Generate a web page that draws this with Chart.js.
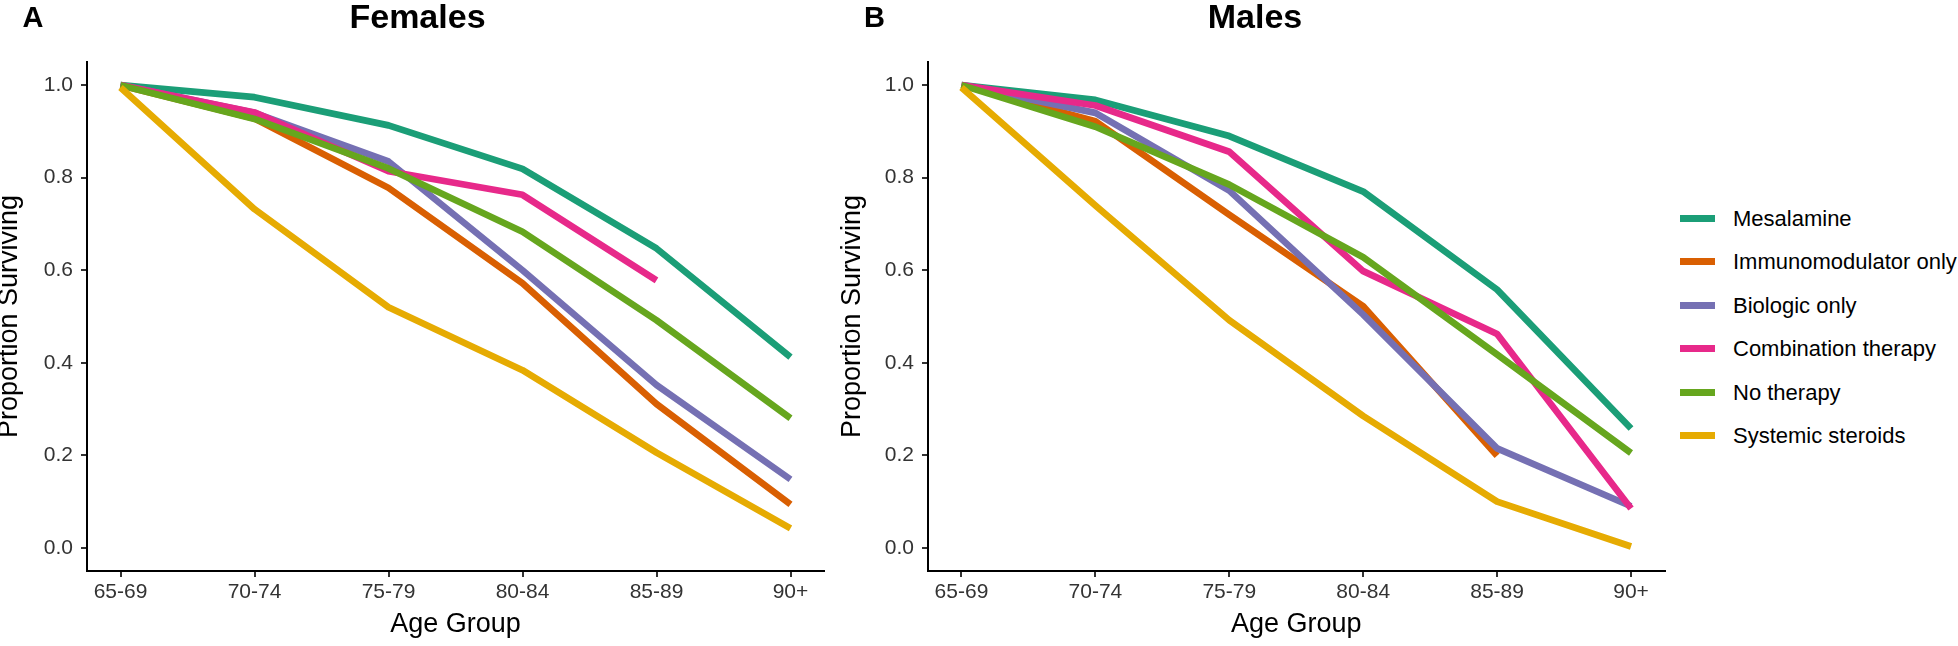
<!DOCTYPE html>
<html>
<head>
<meta charset="utf-8">
<script src="https://cdn.jsdelivr.net/npm/chart.js@4.4.1/dist/chart.umd.min.js"></script>
<style>
html, body { margin: 0; padding: 0; background: #ffffff; }
body { width: 1958px; height: 646px; position: relative; overflow: hidden; font-family: "Liberation Sans", Arial, Helvetica, sans-serif; }
canvas { position: absolute; top: 0; }
.sw { position: absolute; width: 35px; height: 6.7px; }
.lt { position: absolute; font-size: 22px; line-height: 22px; color: #000; white-space: nowrap; }
</style>
</head>
<body>
<canvas id="chartFemales" width="835" height="646" style="left:0px"></canvas>
<canvas id="chartMales" width="840" height="646" style="left:835px"></canvas>
<div id="legend"></div>
<script>
// ---------- data ----------
const ageGroups = ['65-69', '70-74', '75-79', '80-84', '85-89', '90+'];
const treatments = ['Mesalamine', 'Immunomodulator only', 'Biologic only', 'Combination therapy', 'No therapy', 'Systemic steroids'];
const yTicks = [0.0, 0.2, 0.4, 0.6, 0.8, 1.0];

// Females (panel A)
const femalesMesalamine    = [1.000, 0.974, 0.913, 0.819, 0.647, 0.412];
const femalesImmuno        = [1.000, 0.928, 0.778, 0.572, 0.311, 0.094];
const femalesBiologic      = [1.000, 0.940, 0.835, 0.600, 0.352, 0.148];
const femalesCombination   = [1.000, 0.941, 0.814, 0.763, 0.578, null];
const femalesNoTherapy     = [1.000, 0.927, 0.820, 0.683, 0.492, 0.280];
const femalesSteroids      = [0.995, 0.732, 0.520, 0.384, 0.206, 0.042];

// Males (panel B)
const malesMesalamine      = [1.000, 0.968, 0.890, 0.770, 0.558, 0.258];
const malesImmuno          = [1.000, 0.922, 0.720, 0.522, 0.199, null];
const malesBiologic        = [1.000, 0.940, 0.772, 0.504, 0.215, 0.090];
const malesCombination     = [1.000, 0.956, 0.856, 0.598, 0.462, 0.085];
const malesNoTherapy       = [1.000, 0.910, 0.785, 0.628, 0.418, 0.205];
const malesSteroids        = [0.995, 0.740, 0.492, 0.285, 0.100, 0.003];

const femalesSeries = [femalesMesalamine, femalesImmuno, femalesBiologic, femalesCombination, femalesNoTherapy, femalesSteroids];
const malesSeries   = [malesMesalamine, malesImmuno, malesBiologic, malesCombination, malesNoTherapy, malesSteroids];

// ---------- styles ----------
const seriesColors = ['#1B9E77', '#D95F02', '#7570B3', '#E7298A', '#66A61E', '#E6AB02'];
const FONT = '"Liberation Sans", Arial, Helvetica, sans-serif';

const panelTextPlugin = {
  id: 'panelText',
  afterDraw(chart, args, opts) {
    const ctx = chart.ctx;
    ctx.save();
    ctx.fillStyle = '#000';
    ctx.font = 'bold 34px ' + FONT;
    ctx.textAlign = 'center';
    ctx.textBaseline = 'middle';
    ctx.fillText(opts.title, opts.titleX, 18.4);
    ctx.font = 'bold 29px ' + FONT;
    ctx.textAlign = 'left';
    ctx.textBaseline = 'alphabetic';
    ctx.fillText(opts.label, opts.labelX, 26.7);
    ctx.restore();
  }
};

function makeChart(canvasId, series, cfg) {
  const datasets = series.map((vals, i) => ({
    label: treatments[i],
    data: vals.map((v, j) => ({ x: j + 1, y: v })),
    borderColor: seriesColors[i],
    backgroundColor: seriesColors[i],
    borderWidth: 6.7,
    borderJoinStyle: 'round',
    borderCapStyle: 'butt',
    pointRadius: 0,
    pointHoverRadius: 0,
    tension: 0,
    fill: false,
    spanGaps: false,
    order: series.length - i
  }));
  return new Chart(document.getElementById(canvasId), {
    type: 'line',
    data: { datasets },
    plugins: [panelTextPlugin],
    options: {
      responsive: false,
      animation: false,
      devicePixelRatio: 1,
      layout: { padding: { left: cfg.padLeft, right: cfg.padRight, top: 62, bottom: 0 } },
      plugins: {
        legend: { display: false },
        tooltip: { enabled: false },
        title: { display: false },
        panelText: { title: cfg.title, titleX: cfg.titleX, label: cfg.label, labelX: cfg.labelX }
      },
      scales: {
        x: {
          type: 'linear',
          min: 0.75,
          max: ageGroups.length + 0.25,
          afterBuildTicks: s => { s.ticks = ageGroups.map((g, i) => ({ value: i + 1 })); },
          afterFit: s => { s.height = 75; },
          ticks: {
            callback: v => ageGroups[Math.round(v) - 1],
            font: { family: FONT, size: 21 },
            color: '#333',
            padding: 3,
            maxRotation: 0,
            autoSkip: false
          },
          grid: { display: true, drawOnChartArea: false, drawTicks: true, tickLength: 6, color: '#333', lineWidth: 2 },
          border: { display: true, color: '#000', width: 2 },
          title: { display: true, text: 'Age Group', color: '#000', font: { family: FONT, size: 27, lineHeight: 1 }, padding: { top: 0, bottom: 8 } }
        },
        y: {
          type: 'linear',
          min: -0.05,
          max: 1.05,
          afterBuildTicks: s => { s.ticks = yTicks.map(v => ({ value: v })); },
          afterFit: s => { s.width = cfg.chartLeft - cfg.padLeft; },
          ticks: {
            callback: v => Number(v).toFixed(1),
            font: { family: FONT, size: 21 },
            color: '#333',
            padding: 8
          },
          grid: { display: true, drawOnChartArea: false, drawTicks: true, tickLength: 6, color: '#333', lineWidth: 2 },
          border: { display: true, color: '#000', width: 2 },
          title: { display: true, text: 'Proportion Surviving', color: '#000', font: { family: FONT, size: 27, lineHeight: 0.73 }, padding: { top: 0, bottom: 0 } }
        }
      }
    }
  });
}

makeChart('chartFemales', femalesSeries, { padLeft: 0, padRight: 11, chartLeft: 87, title: 'Females', titleX: 417.5, label: 'A', labelX: 22.5 });
makeChart('chartMales', malesSeries, { padLeft: 8, padRight: 10.5, chartLeft: 93, title: 'Males', titleX: 420, label: 'B', labelX: 29 });

// ---------- legend ----------
const legendEl = document.getElementById('legend');
treatments.forEach((name, i) => {
  const cy = 218.3 + 43.5 * i;
  const sw = document.createElement('div');
  sw.className = 'sw';
  sw.style.left = '1679.5px';
  sw.style.top = (cy - 3.35) + 'px';
  sw.style.background = seriesColors[i];
  legendEl.appendChild(sw);
  const t = document.createElement('div');
  t.className = 'lt';
  t.style.left = '1733px';
  t.style.top = (cy - 10.7) + 'px';
  t.textContent = name;
  legendEl.appendChild(t);
});
</script>
</body>
</html>
